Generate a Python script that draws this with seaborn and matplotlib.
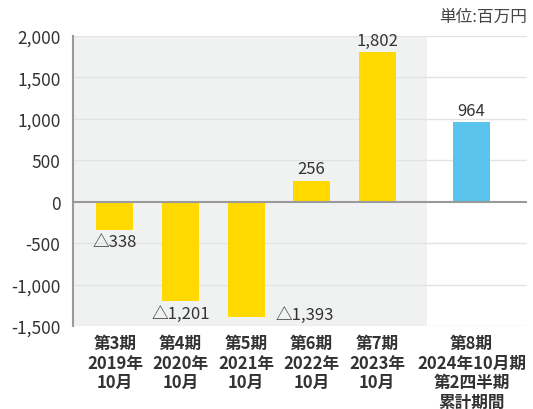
import matplotlib
matplotlib.use('Agg')
import matplotlib.pyplot as plt
import seaborn as sns
import pandas as pd

# データ
periods = ['第3期\n2019年\n10月', '第4期\n2020年\n10月', '第5期\n2021年\n10月',
           '第6期\n2022年\n10月', '第7期\n2023年\n10月', '第8期\n2024年10月期\n第2四半期\n累計期間']
values = [-338, -1201, -1393, 256, 1802, 964]
value_labels = ['△338', '△1,201', '△1,393', '256', '1,802', '964']
kinds = ['通期', '通期', '通期', '通期', '通期', '四半期']

# レイアウト (最後の期だけ間隔を空ける)
xpos = [0, 1, 2, 3, 4, 5.44]

sns.set_theme(style='white')
plt.rcParams['font.family'] = ['Noto Sans CJK JP', 'DejaVu Sans']

df = pd.DataFrame({'x': xpos, 'value': values, 'kind': kinds})

fig = plt.figure(figsize=(5.33, 4.10), dpi=100)
ax = fig.add_axes([0.137, 0.2024, 0.852, 0.7074])

# 実績期間の背景
ax.axvspan(-0.64, 4.76, color='#f0f1f1', zorder=0, lw=0)

sns.barplot(data=df, x='x', y='value', hue='kind', native_scale=True, dodge=False,
            palette={'通期': '#ffd900', '四半期': '#5bc4ec'}, width=0.565, saturation=1,
            legend=False, ax=ax, zorder=3, linewidth=0)

ax.set_xlim(-0.64, 6.29)
ax.set_ylim(-1500, 2000)
ax.set_yticks(range(-1500, 2001, 500))
ax.set_yticklabels([f'{v:,}' for v in range(-1500, 2001, 500)], color='#333333', fontsize=12.5)
ax.set_xticks(xpos)
ax.set_xticklabels(periods, color='#333333', fontsize=12, fontweight='bold', linespacing=1.1)
ax.tick_params(axis='y', length=0, pad=9)
ax.tick_params(axis='x', length=0, pad=6)
ax.set_xlabel('')
ax.set_ylabel('')

for y in range(-1500, 2001, 500):
    if y != 0:
        ax.axhline(y, color='#e2e3e3', lw=1, zorder=1)
ax.axhline(0, color='#9a9a9a', lw=1.5, zorder=4)

for s in ['top', 'right', 'bottom']:
    ax.spines[s].set_visible(False)
ax.spines['left'].set_color('#9a9a9a')
ax.spines['left'].set_linewidth(1.5)

# 値ラベル
for i, (x, v, lab) in enumerate(zip(xpos, values, value_labels)):
    if i == 2:
        ax.text(x + 0.45, v + 30, lab, ha='left', va='center', fontsize=12, color='#333333')
    elif v < 0:
        ax.text(x, v - 40, lab, ha='center', va='top', fontsize=12, color='#333333')
    else:
        ax.text(x, v + 40, lab, ha='center', va='bottom', fontsize=12, color='#333333')

fig.text(0.989, 0.958, '単位:百万円', ha='right', va='center', fontsize=12, color='#444444')

fig.savefig('out.png', dpi=100, facecolor='white')
plt.close()
